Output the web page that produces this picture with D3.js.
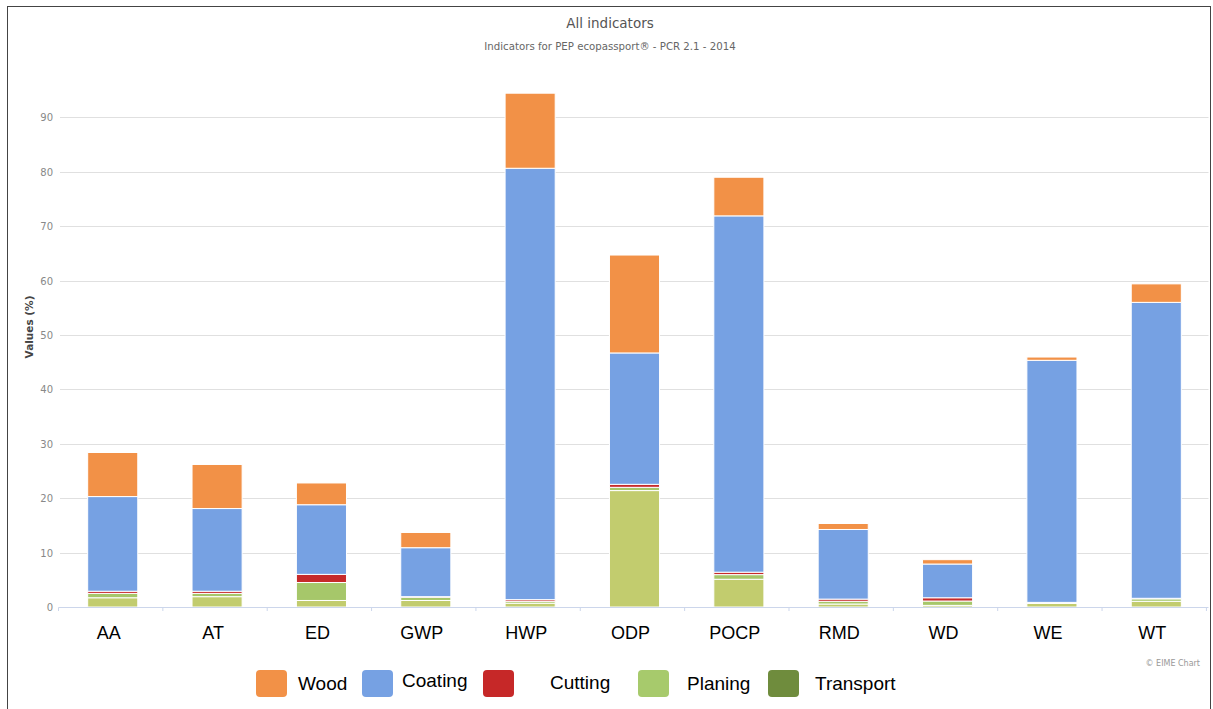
<!DOCTYPE html>
<meta charset="utf-8">
<style>
    body { margin: 0; background: #fff; }
    svg { display: block; }
    .grid line { stroke: #e0e0e0; }
    .ylab { font: 10px "DejaVu Sans", sans-serif; fill: #888; }
    .xlab { font: 18px "Liberation Sans", sans-serif; fill: #000; }
    .leg { font: 19px "Liberation Sans", sans-serif; fill: #000; }
</style>
<svg width="1213" height="709"></svg>
<script src="https://d3js.org/d3.v7.min.js"></script>
<script>

    // categories and stacked values (%), bottom to top
    var categories = ["AA", "AT", "ED", "GWP", "HWP", "ODP", "POCP", "RMD", "WD", "WE", "WT"];
    var transport = [1.7, 1.9, 1.2, 1.2, 0.7, 21.4, 5.1, 0.55, 0.3, 0.65, 1.05];
    var planing   = [0.8, 0.6, 3.3, 0.6, 0.35, 0.6, 0.85, 0.5, 0.8, 0.15, 0.45];
    var cutting   = [0.4, 0.4, 1.5, 0.1, 0.3, 0.55, 0.45, 0.4, 0.6, 0.05, 0.1];
    var coating   = [17.4, 15.2, 12.8, 9.0, 79.3, 24.15, 65.5, 12.8, 6.2, 44.5, 54.4];
    var wood      = [8.1, 8.1, 4.0, 2.8, 13.8, 18.0, 7.1, 1.1, 0.8, 0.6, 3.4];

    var yTicks = [0, 10, 20, 30, 40, 50, 60, 70, 80, 90];

    var seriesKeys = ["Transport", "Planing", "Cutting", "Coating", "Wood"];
    var barColors = ["#c2cc6e", "#a6c76a", "#c62a2a", "#76a1e3", "#f29147"];

    var legendNames = ["Wood", "Coating", "Cutting", "Planing", "Transport"];
    var legendColors = ["#f29147", "#76a1e3", "#c62828", "#a7ca6c", "#6f8c3d"];

    var svg = d3.select("svg"),
        width = +svg.attr("width"),
        height = +svg.attr("height");

    var rows = categories.map(function(c, i) {
        return { cat: c, Transport: transport[i], Planing: planing[i], Cutting: cutting[i], Coating: coating[i], Wood: wood[i] };
    });

    var x = d3.scaleBand()
        .domain(categories)
        .range([58.5, 1208.5])
        .paddingInner(0.52)
        .paddingOuter(0.27);

    var y = d3.scaleLinear()
        .domain([0, 90])
        .range([607, 117.4]);

    // frame
    svg.append("rect")
        .attr("x", 7.5).attr("y", 6.5)
        .attr("width", 1203).attr("height", 720)
        .attr("fill", "none")
        .attr("stroke", "#444");

    // titles
    svg.append("text")
        .attr("x", 610).attr("y", 28)
        .attr("text-anchor", "middle")
        .style("font", "13.5px 'DejaVu Sans', sans-serif")
        .style("fill", "#555")
        .text("All indicators");

    svg.append("text")
        .attr("x", 610).attr("y", 50)
        .attr("text-anchor", "middle")
        .style("font", "10.2px 'DejaVu Sans', sans-serif")
        .style("fill", "#666")
        .text("Indicators for PEP ecopassport® - PCR 2.1 - 2014");

    // grid + y labels
    var grid = svg.append("g").attr("class", "grid");
    grid.selectAll("line")
        .data(yTicks.filter(function(d) { return d > 0; }))
        .enter().append("line")
        .attr("x1", 60).attr("x2", 1208.5)
        .attr("y1", function(d) { return Math.round(y(d)) + 0.5; })
        .attr("y2", function(d) { return Math.round(y(d)) + 0.5; });

    svg.selectAll(".ylab")
        .data(yTicks)
        .enter().append("text")
        .attr("class", "ylab")
        .attr("x", 53)
        .attr("y", function(d) { return y(d) + 4; })
        .attr("text-anchor", "end")
        .text(function(d) { return d; });

    svg.append("text")
        .attr("transform", "translate(33,327) rotate(-90)")
        .attr("text-anchor", "middle")
        .style("font", "bold 10.5px 'DejaVu Sans', sans-serif")
        .style("fill", "#444")
        .text("Values (%)");

    // stacked bars
    var stack = d3.stack().keys(seriesKeys)(rows);

    svg.append("g")
        .selectAll("g")
        .data(stack)
        .enter().append("g")
        .attr("fill", function(d, i) { return barColors[i]; })
        .selectAll("rect")
        .data(function(d) { return d; })
        .enter().append("rect")
        .attr("x", function(d) { return x(d.data.cat) + 1; })
        .attr("width", x.bandwidth())
        .attr("y", function(d) { return y(d[1]); })
        .attr("height", function(d) { return Math.max(0, y(d[0]) - y(d[1])); })
        .attr("stroke", "#fff")
        .attr("stroke-width", 1);

    // x axis
    svg.append("line")
        .attr("x1", 58.5).attr("x2", 1208.5)
        .attr("y1", 607.5).attr("y2", 607.5)
        .attr("stroke", "#ccd6eb");

    var bounds = d3.range(categories.length + 1).map(function(i) { return 58.5 + i * x.step(); });
    svg.selectAll(".xtick")
        .data(bounds)
        .enter().append("line")
        .attr("class", "xtick")
        .attr("x1", function(d) { return d; }).attr("x2", function(d) { return d; })
        .attr("y1", 607.5).attr("y2", 611)
        .attr("stroke", "#ccd6eb");

    svg.selectAll(".xlab")
        .data(categories)
        .enter().append("text")
        .attr("class", "xlab")
        .attr("x", function(d) { return x(d) + x.bandwidth() / 2 - 3; })
        .attr("y", 639)
        .attr("text-anchor", "middle")
        .text(function(d) { return d; });

    // legend
    var legX = [256, 362, 483, 638, 768];
    var legTextX = [298, 402, 550, 687, 815];
    var legTextY = [690, 687, 689, 690, 690];
    var leg = svg.selectAll(".legitem")
        .data(legendNames)
        .enter().append("g")
        .attr("class", "legitem");

    leg.append("rect")
        .attr("x", function(d, i) { return legX[i]; })
        .attr("y", 670)
        .attr("width", 31).attr("height", 27)
        .attr("rx", 4)
        .attr("fill", function(d, i) { return legendColors[i]; });

    leg.append("text")
        .attr("class", "leg")
        .attr("x", function(d, i) { return legTextX[i]; })
        .attr("y", function(d, i) { return legTextY[i]; })
        .text(function(d) { return d; });

    svg.append("text")
        .attr("x", 1200).attr("y", 666)
        .attr("text-anchor", "end")
        .style("font", "8px 'DejaVu Sans', sans-serif")
        .style("fill", "#999")
        .text("© EIME Chart");

</script>
